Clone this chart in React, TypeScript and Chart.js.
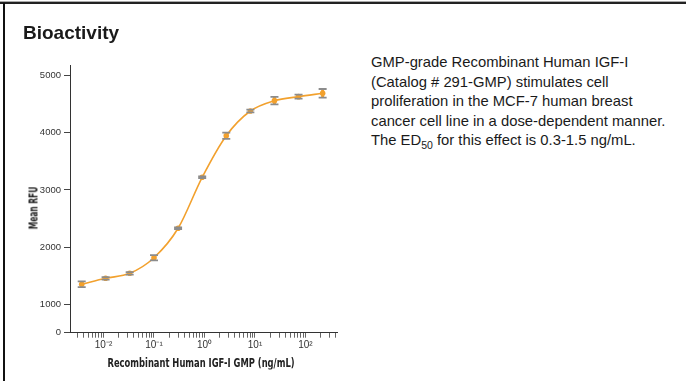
import React, { useEffect, useRef } from "react";
import { Chart, registerables } from "chart.js";

Chart.register(...registerables);

// ---- data ----
const concentrations = [0.0037, 0.011, 0.033, 0.1, 0.3, 0.9, 2.7, 8.1, 24.3, 72.9, 218.7];
const meanRFU = [1350, 1455, 1542, 1815, 2330, 3222, 3950, 4382, 4563, 4633, 4692];
const errorRFU = [50, 22, 22, 45, 14, 14, 55, 25, 65, 35, 75];
const yTickValues = [1000, 2000, 3000, 4000, 5000];
const yBreakLabel = "0";
const xDecades = [-3, -2, -1, 0, 1, 2];
const xDecadeLabels = ["10⁻³", "10⁻²", "10⁻¹", "10⁰", "10¹", "10²"];
const xMinorMultipliers = [1, 2, 3, 4, 5, 6, 7, 8, 9];

const X_MIN = 0.00217;
const X_MAX = 421;
const Y_MIN = 503;
const Y_MAX = 5187;

const ORANGE = "#F2A12E";
const GREY = "#8c8c8c";
const TICKFONT = '"Liberation Sans", Arial, sans-serif';
const TITLEFONT = '"DejaVu Sans", sans-serif';

const errorBarPlugin = {
  id: "errorBars",
  afterDatasetsDraw(chart: any) {
    const { ctx, scales } = chart;
    const xs = scales.x;
    const ys = scales.y;
    ctx.save();
    for (let i = 0; i < concentrations.length; i++) {
      const x = xs.getPixelForValue(concentrations[i]);
      const yt = ys.getPixelForValue(meanRFU[i] + errorRFU[i]);
      const yb = ys.getPixelForValue(meanRFU[i] - errorRFU[i]);
      ctx.strokeStyle = ORANGE;
      ctx.lineWidth = 3;
      ctx.beginPath();
      ctx.moveTo(x, yt);
      ctx.lineTo(x, yb);
      ctx.stroke();
      ctx.strokeStyle = GREY;
      ctx.lineWidth = 1.8;
      ctx.beginPath();
      ctx.moveTo(x - 4, yt);
      ctx.lineTo(x + 4, yt);
      ctx.moveTo(x - 4, yb);
      ctx.lineTo(x + 4, yb);
      ctx.stroke();
    }
    ctx.restore();
  },
};

function BioChart() {
  const ref = useRef<HTMLCanvasElement | null>(null);
  useEffect(() => {
    if (!ref.current) return;
    const chart = new Chart(ref.current, {
      type: "line",
      data: {
        datasets: [
          {
            data: concentrations.map((c, i) => ({ x: c, y: meanRFU[i] })),
            borderColor: ORANGE,
            borderWidth: 1.6,
            backgroundColor: ORANGE,
            pointRadius: 2.8,
            pointBorderWidth: 0,
            pointBackgroundColor: ORANGE,
            cubicInterpolationMode: "monotone",
            fill: false,
          },
        ],
      },
      options: {
        animation: false,
        responsive: false,
        devicePixelRatio: 1,
        layout: { padding: { top: 65, right: 8, left: 0, bottom: 0 } },
        plugins: { legend: { display: false }, tooltip: { enabled: false } },
        scales: {
          x: {
            type: "logarithmic",
            min: X_MIN,
            max: X_MAX,
            afterFit(scale: any) {
              scale.height = 48.3;
            },
            afterBuildTicks(scale: any) {
              const t: any[] = [];
              xDecades.forEach((d) => {
                xMinorMultipliers.forEach((m) => {
                  const v = m * Math.pow(10, d);
                  if (v >= X_MIN && v <= X_MAX) t.push({ value: v, major: m === 1 });
                });
              });
              scale.ticks = t;
            },
            ticks: {
              autoSkip: false,
              maxRotation: 0,
              padding: 2,
              color: "#333",
              font: { family: TICKFONT, size: 10 },
              callback(value: any) {
                const lv = Math.log10(Number(value));
                const idx = xDecades.findIndex((d) => Math.abs(d - lv) < 1e-6);
                return idx >= 0 ? xDecadeLabels[idx] : "";
              },
            },
            grid: {
              drawOnChartArea: false,
              drawTicks: true,
              tickLength: 5,
              tickColor: "#666",
              tickWidth: 1,
            },
            border: { display: true, color: "#333", width: 1 },
          },
          y: {
            type: "linear",
            min: Y_MIN,
            max: Y_MAX,
            afterFit(scale: any) {
              scale.width = 70;
            },
            afterBuildTicks(scale: any) {
              scale.ticks = [{ value: Y_MIN }, ...yTickValues.map((v) => ({ value: v }))];
            },
            ticks: {
              padding: 3,
              color: "#333",
              font: { family: TICKFONT, size: 9.5 },
              callback(value: any) {
                return Number(value) === Y_MIN ? yBreakLabel : String(value);
              },
            },
            grid: {
              drawOnChartArea: false,
              drawTicks: true,
              tickLength: 6,
              tickColor: "#444",
              tickWidth: 1,
            },
            border: { display: true, color: "#333", width: 1 },
          },
        },
      },
      plugins: [errorBarPlugin],
    } as any);
    return () => chart.destroy();
  }, []);
  return (
    <canvas
      ref={ref}
      width={345}
      height={381}
      style={{ position: "absolute", left: 0, top: 0, width: 345, height: 381 }}
    />
  );
}

export default function App() {
  return (
    <div
      style={{
        position: "fixed",
        left: 0,
        top: 0,
        width: 686,
        height: 381,
        background: "#fff",
        overflow: "hidden",
        fontFamily: '"Liberation Sans", Arial, sans-serif',
      }}
    >
      <div style={{ position: "absolute", left: 0, top: 1, width: 686, height: 1, background: "#aaa" }} />
      <div style={{ position: "absolute", left: 0, top: 2, width: 686, height: 2, background: "#222" }} />
      <div style={{ position: "absolute", left: 3, top: 3, width: 2, height: 378, background: "#111" }} />
      <BioChart />
      <div
        style={{
          position: "absolute",
          left: 23,
          top: 22,
          fontSize: 19,
          lineHeight: "22px",
          fontWeight: "bold",
          color: "#1a1a1a",
          whiteSpace: "nowrap",
        }}
      >
        Bioactivity
      </div>
      <div
        style={{
          position: "absolute",
          left: 33,
          top: 208,
          transform: "translate(-50%, -50%) rotate(-90deg) scaleX(0.6)",
          whiteSpace: "nowrap",
          fontFamily: TITLEFONT,
          fontWeight: "bold",
          fontSize: 12.5,
          color: "#222",
        }}
      >
        Mean RFU
      </div>
      <div
        style={{
          position: "absolute",
          left: 201,
          top: 362,
          transform: "translate(-50%, -50%) scaleX(0.67)",
          whiteSpace: "nowrap",
          fontFamily: TITLEFONT,
          fontWeight: "bold",
          fontSize: 12.5,
          color: "#222",
        }}
      >
        Recombinant Human IGF-I GMP (ng/mL)
      </div>
      <div
        style={{
          position: "absolute",
          left: 371,
          top: 53,
          fontSize: 14.8,
          lineHeight: "19.5px",
          color: "#1a1a1a",
          whiteSpace: "nowrap",
        }}
      >
        GMP-grade Recombinant Human IGF-I
        <br />
        (Catalog # 291-GMP) stimulates cell
        <br />
        proliferation in the MCF-7 human breast
        <br />
        cancer cell line in a dose-dependent manner.
        <br />
        The ED
        <span style={{ fontSize: 10.5, position: "relative", top: 4 }}>50</span> for this effect is 0.3-1.5 ng/mL.
      </div>
    </div>
  );
}
